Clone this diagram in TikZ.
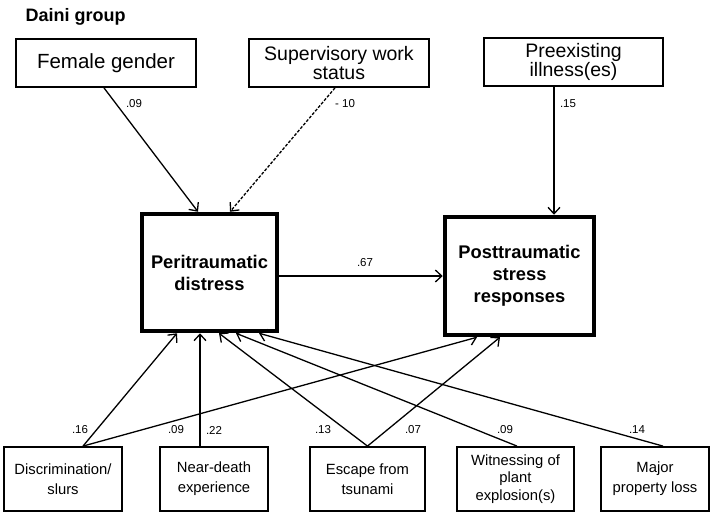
\documentclass[tikz,border=0pt]{standalone}
\usepackage{fontspec}
\setmainfont{Liberation Sans}
\usetikzlibrary{arrows.meta,calc}

\begin{document}
\begin{tikzpicture}[x=1pt,y=-1pt,
topbox/.style={draw,line width=1.8pt,minimum width=180pt,minimum height=48pt,inner sep=1pt,align=center,font=\fontsize{19.5}{18.5}\selectfont},
mainbox/.style={draw,line width=4.5pt,inner sep=1pt,align=center,font=\bfseries\fontsize{18.3}{22}\selectfont},
botbox/.style={draw,line width=1.8pt,minimum height=64pt,inner sep=1pt,align=center,font=\fontsize{14.8}{20}\selectfont},
conn/.style={line width=1.3pt,-{Straight Barb[length=6.5pt,width=12pt,line width=1.3pt]}},
coef/.style={inner sep=0pt,font=\fontsize{11.5}{13}\selectfont}]
\useasboundingbox (0,0) rectangle (724,517);
\node (title) at (22,21)[anchor=base west,font=\bfseries\fontsize{18}{20}\selectfont] {Daini group};
% exposures on top
\node (female) at (106,63)[topbox,font=\fontsize{20.5}{18.5}\selectfont] {Female gender};
\node (superv) at (339,63)[topbox] {Supervisory work\\status};
\node (preex) at (573.5,62)[topbox,minimum width=179pt] {Preexisting\\illness(es)};
% outcomes
\node (peri) at (209.5,272.5)[mainbox,minimum width=135pt,minimum height=117pt] {Peritraumatic\\distress};
\node (post) at (519.5,276)[mainbox,minimum width=149pt,minimum height=118pt] {Posttraumatic\\stress\\responses};
% disaster experiences
\node (discr) at (63,479)[botbox,minimum width=118pt] {Discrimination/\\slurs};
\node (neard) at (214,479)[botbox,minimum width=108pt] {Near-death\\experience};
\node (escape) at (367.5,479)[botbox,minimum width=115pt] {Escape from\\tsunami};
\node (witn) at (515.5,479)[botbox,minimum width=117pt,font=\fontsize{14.8}{17.5}\selectfont] {Witnessing of\\plant\\explosion(s)};
\node (major) at (655,479)[botbox,minimum width=108pt] {Major\\property loss};

\draw[conn] ([xshift=-2pt]female.south) -- ([xshift=-11.5pt]peri.north);
\draw[conn,dash pattern=on 3pt off 1.6pt] ([xshift=-4pt]superv.south) -- ([xshift=20.5pt]peri.north);
\draw[conn] ([xshift=-19.5pt]preex.south) -- ([xshift=34.5pt]post.north);
\draw[conn] ([yshift=-3.5pt]peri.east) -- (post.west);

\draw[conn] ([xshift=20pt]discr.north) -- ([xshift=-32.5pt]peri.south);
\draw[conn] ([xshift=20pt]discr.north) -- ([xshift=-42.5pt]post.south);
\draw[conn] ([xshift=-14pt]neard.north) -- ([xshift=-9.5pt]peri.south);
\draw[conn] (escape.north) -- ([xshift=9.5pt]peri.south);
\draw[conn] (escape.north) -- ([xshift=-19.5pt]post.south);
\draw[conn] ([xshift=1.5pt]witn.north) -- ([xshift=26.5pt]peri.south);
\draw[conn] ([xshift=8pt]major.north) -- ([xshift=49.5pt]peri.south);

% path coefficients
\node (cfem) at (134,104)[coef] {.09};
\node (csup) at (345,104)[coef] {- 10};
\node (cpre) at (568,104)[coef] {.15};
\node (cperi) at (365,263)[coef] {.67};
\node (cdis1) at (80,430)[coef] {.16};
\node (cdis2) at (176,430)[coef] {.09};
\node (cnear) at (214,430)[coef] {.22};
\node (cesc1) at (323,430)[coef] {.13};
\node (cesc2) at (413,430)[coef] {.07};
\node (cwit) at (505,430)[coef] {.09};
\node (cmaj) at (637,430)[coef] {.14};
\end{tikzpicture}
\end{document}
